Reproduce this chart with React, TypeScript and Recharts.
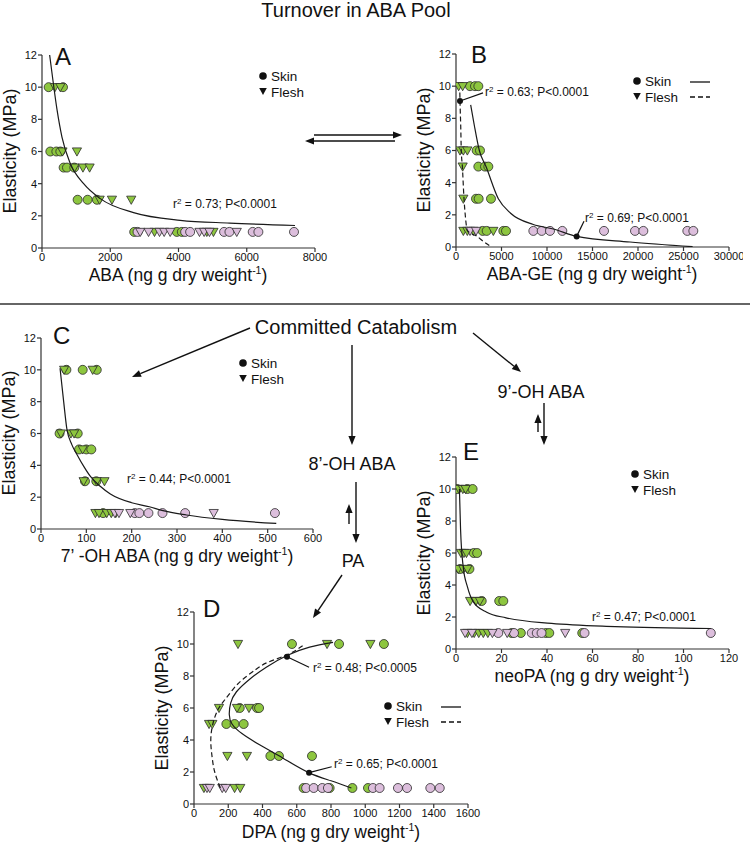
import React from 'react';
import { ScatterChart, Scatter, XAxis, YAxis, ReferenceDot, ReferenceLine } from 'recharts';

const FONT = '"Liberation Sans", Arial, Helvetica, sans-serif';
const GREEN = '#8DC63F';
const PINK = '#DCBEDC';
const EDGE = '#2a2a2a';
const INK = '#111';

type P = [number, number];

const Y_TICKS = [0, 2, 4, 6, 8, 10, 12];

// ---------- Panel A : ABA ----------
const A_xTicks = [0, 2000, 4000, 6000, 8000];
const A_skinGreen: P[] = [[195,10],[615,10],[244,6],[420,6],[537,6],[634,5],[732,5],[946,5],[1044,3],[1337,3],[1610,3],[2702,1],[3951,1],[4097,1]];
const A_fleshGreen: P[] = [[380,10],[537,10],[600,6],[1024,6],[950,5],[1200,5],[1395,5],[1690,3],[2050,3],[2615,3],[3297,1],[4830,1],[5024,1]];
const A_skinPink: P[] = [[2800,1],[4195,1],[4341,1],[5336,1],[5493,1],[6175,1],[6341,1],[7385,1]];
const A_fleshPink: P[] = [[2878,1],[3122,1],[3444,1],[3580,1],[3756,1],[4615,1],[4751,1],[4907,1],[5707,1]];
const A_fit: P[] = [[224,12],[322,10.4],[440,8.6],[585,6.9],[830,5.25],[1220,4.0],[1707,3.07],[2683,2.2],[4050,1.72],[5500,1.55],[7415,1.4]];

// ---------- Panel B : ABA-GE ----------
const B_xTicks = [0, 5000, 10000, 15000, 20000, 25000, 30000];
const B_skinGreen: P[] = [[1538,10],[2088,10],[2454,10],[2271,6],[2637,6],[2454,5],[3187,5],[3553,5],[2198,3],[2490,3],[3846,3],[2930,1],[3370,1],[5201,1],[5495,1]];
const B_fleshGreen: P[] = [[293,10],[733,10],[440,6],[806,6],[1245,6],[733,5],[806,3],[806,1],[1245,1],[1905,1],[4103,1]];
const B_skinPink: P[] = [[8498,1],[9414,1],[10330,1],[11685,1],[16264,1],[19670,1],[20586,1],[25421,1],[26080,1]];
const B_fleshPink: P[] = [[1538,1],[2198,1]];
const B_fitSkin: P[] = [[1612,8.84],[2000,7.6],[2564,6],[3297,5],[4652,3],[6000,2.1],[8498,1.4],[10696,1.12],[13260,0.66],[19121,0.31],[26000,0.02]];
const B_fitFlesh: P[] = [[420,9.6],[440,9.08],[520,7.5],[580,6],[700,5],[880,3],[1000,2.1],[1245,1.03],[1700,0.82],[2270,0.68],[3000,0.35],[3900,0]];

// ---------- Panel C : 7'-OH ABA ----------
const C_xTicks = [0, 100, 200, 300, 400, 500, 600];
const C_skinGreen: P[] = [[56,10],[92,10],[123,10],[41,6],[81,6],[84,5],[100,5],[111,5],[97,3],[122,3],[137,1]];
const C_fleshGreen: P[] = [[51,10],[114,10],[44,6],[66,6],[73,6],[92,5],[94,3],[123,3],[140,3],[120,1],[128,1],[145,1],[155,1],[165,1]];
const C_skinPink: P[] = [[207,1],[217,1],[237,1],[268,1],[318,1],[516,1]];
const C_fleshPink: P[] = [[163,1],[172,1],[197,1],[381,1]];
const C_fit: P[] = [[42,10.1],[50,8],[57,6.3],[68,5.3],[79,4.7],[95,3.9],[109,3.3],[130,2.7],[153,2.2],[200,1.65],[239,1.4],[269,1.15],[321,0.88],[400,0.6],[519,0.35]];

// ---------- Panel D : DPA ----------
const D_xTicks = [0, 200, 400, 600, 800, 1000, 1200, 1400, 1600];
const D_skinGreen: P[] = [[572,10],[847,10],[1109,10],[267,6],[368,6],[380,6],[189,5],[237,5],[290,5],[446,3],[496,3],[689,3],[640,1],[792,1],[925,1],[1016,1]];
const D_fleshGreen: P[] = [[257,10],[777,10],[1030,10],[146,6],[251,6],[321,6],[88,5],[107,5],[195,3],[309,3],[58,1],[237,1],[270,1]];
const D_skinPink: P[] = [[655,1],[699,1],[749,1],[782,1],[1045,1],[1084,1],[1191,1],[1244,1],[1380,1],[1435,1]];
const D_fleshPink: P[] = [[76,1],[92,1],[165,1],[185,1]];
const D_fitSkin: P[] = [[919,1],[800,1.45],[670,1.96],[520,2.86],[383,3.7],[280,4.4],[222,5.0],[206,5.6],[214,6.3],[247,7.0],[325,7.8],[422,8.55],[543,9.28],[675,9.8],[812,10.1]];
const D_fitFlesh: P[] = [[154,1],[121,2],[105,3],[98,4],[110,5],[140,5.9],[179,6.5],[230,7.2],[286,7.8],[360,8.4],[430,8.85],[549,9.35],[636,9.9]];

// ---------- Panel E : neoPA ----------
const E_xTicks = [0, 20, 40, 60, 80, 100, 120];
const E_skinGreen: P[] = [[0.5,10],[5,10],[7.3,10],[7.8,6],[9.3,6],[1.8,5],[5.9,5],[11.3,3],[19,3],[20.8,3],[24.5,1],[28.5,1],[39.5,1],[41,1],[55.5,1]];
const E_fleshGreen: P[] = [[1.3,10],[3,10],[4.2,10],[2.2,6],[3.5,6],[4.6,6],[1.0,5],[3.2,5],[5.0,5],[6.2,3],[8.8,3],[10.5,3],[5,1],[8,1],[10,1],[12,1],[14,1]];
const E_skinPink: P[] = [[18.6,1],[25.5,1],[33.3,1],[35.5,1],[37.6,1],[56.5,1],[112,1]];
const E_fleshPink: P[] = [[4,1],[7,1],[16,1],[22.5,1],[48,1]];
const E_fit: P[] = [[1.5,10],[2,7.5],[3.2,5.1],[5,3.9],[7.6,2.95],[13.5,2.3],[22,1.95],[42,1.6],[70,1.4],[112,1.28]];

const toXY = (a: P[]) => a.map(([x, y]) => ({ x, y }));

const CircleShape = (props: any) => {
  const { cx, cy, fill } = props;
  if (cx == null || cy == null) return <g />;
  return <circle cx={cx} cy={cy} r={4.5} fill={fill} stroke={EDGE} strokeWidth={0.8} />;
};
const TriShape = (props: any) => {
  const { cx, cy, fill } = props;
  if (cx == null || cy == null) return <g />;
  return (
    <path
      d={`M${cx - 4.6},${cy - 3.6}L${cx + 4.6},${cy - 3.6}L${cx},${cy + 4.6}Z`}
      fill={fill}
      stroke={EDGE}
      strokeWidth={0.8}
    />
  );
};
const NoShape = () => <g />;

type Fit = { pts: P[]; dashed?: boolean; joint?: string };
type Dot = { x: number; y: number };
type Leader = { from: Dot; to: Dot };

type PanelProps = {
  left: number; top: number; w: number; h: number;
  xMax: number; xTicks: number[];
  skinGreen: P[]; fleshGreen: P[]; skinPink: P[]; fleshPink: P[];
  fits: Fit[]; dots?: Dot[]; leaders?: Leader[];
};

function Panel(p: PanelProps) {
  const YW = 40;
  const MT = 10;
  const MR = 14;
  const XH = 30;
  return (
    <div style={{ position: 'absolute', left: p.left - YW, top: p.top - MT }}>
      <ScatterChart width={p.w + YW + MR} height={p.h + MT + XH} margin={{ top: MT, right: MR, bottom: 0, left: 0 }}>
        <XAxis
          type="number" dataKey="x" domain={[0, p.xMax]} ticks={p.xTicks} interval={0}
          height={XH} tickSize={4} tickMargin={1} stroke="#333" strokeWidth={1.2}
          tick={{ fontSize: 11, fill: INK, fontFamily: FONT }} allowDataOverflow
        />
        <YAxis
          type="number" dataKey="y" domain={[0, 12]} ticks={Y_TICKS} interval={0}
          width={YW} tickSize={4} tickMargin={1} stroke="#333" strokeWidth={1.2}
          tick={{ fontSize: 11, fill: INK, fontFamily: FONT }} allowDataOverflow
        />
        <Scatter data={toXY(p.skinGreen)} fill={GREEN} shape={CircleShape} isAnimationActive={false} />
        <Scatter data={toXY(p.fleshGreen)} fill={GREEN} shape={TriShape} isAnimationActive={false} />
        <Scatter data={toXY(p.skinPink)} fill={PINK} shape={CircleShape} isAnimationActive={false} />
        <Scatter data={toXY(p.fleshPink)} fill={PINK} shape={TriShape} isAnimationActive={false} />
        {p.fits.map((f, i) => (
          <Scatter
            key={'fit' + i}
            data={toXY(f.pts)}
            shape={NoShape}
            line={{ stroke: '#1a1a1a', strokeWidth: 1.2, strokeDasharray: f.dashed ? '5 3' : undefined, fill: 'none' }}
            lineType="joint"
            lineJointType={(f.joint || 'monotoneX') as any}
            isAnimationActive={false}
          />
        ))}
        {(p.leaders || []).map((l, i) => (
          <ReferenceLine key={'ld' + i} segment={[l.from, l.to]} stroke="#111" strokeWidth={1.2} ifOverflow="visible" />
        ))}
        {(p.dots || []).map((d, i) => (
          <ReferenceDot key={'dt' + i} x={d.x} y={d.y} r={3} fill="#111" stroke="none" ifOverflow="visible" />
        ))}
      </ScatterChart>
    </div>
  );
}

function Arrow({ x1, y1, x2, y2 }: { x1: number; y1: number; x2: number; y2: number }) {
  const dx = x2 - x1;
  const dy = y2 - y1;
  const len = Math.hypot(dx, dy);
  const ux = dx / len;
  const uy = dy / len;
  const hl = 9;
  const hw = 3.6;
  const bx = x2 - ux * hl;
  const by = y2 - uy * hl;
  const pts = `${x2},${y2} ${bx - uy * hw},${by + ux * hw} ${bx + uy * hw},${by - ux * hw}`;
  return (
    <g>
      <line x1={x1} y1={y1} x2={bx} y2={by} stroke="#111" strokeWidth={1.4} />
      <polygon points={pts} fill="#111" />
    </g>
  );
}

function Legend({ x, y, lines }: { x: number; y: number; lines?: boolean }) {
  return (
    <g fontFamily={FONT} fontSize={13.5} fill={INK}>
      <circle cx={x} cy={y} r={3.8} fill="#111" />
      <text x={x + 8} y={y + 5}>Skin</text>
      <path d={`M${x - 3.8},${y + 12}L${x + 3.8},${y + 12}L${x},${y + 19}Z`} fill="#111" />
      <text x={x + 8} y={y + 20.5}>Flesh</text>
      {lines && (
        <g>
          <line x1={x + 53} y1={y + 1} x2={x + 73} y2={y + 1} stroke="#111" strokeWidth={1.3} />
          <line x1={x + 53} y1={y + 16} x2={x + 73} y2={y + 16} stroke="#111" strokeWidth={1.3} strokeDasharray="5 3" />
        </g>
      )}
    </g>
  );
}

function XLabel({ cx, y, name }: { cx: number; y: number; name: string }) {
  return (
    <text x={cx} y={y} textAnchor="middle" fontFamily={FONT} fontSize={17.5} fill={INK}>
      {name} (ng g dry weight<tspan dy={-7} fontSize={10.5}>-1</tspan><tspan dy={7}>)</tspan>
    </text>
  );
}

function YLabel({ x, cy }: { x: number; cy: number }) {
  return (
    <text transform={`translate(${x},${cy}) rotate(-90)`} textAnchor="middle" fontFamily={FONT} fontSize={18} fill={INK}>
      Elasticity (MPa)
    </text>
  );
}

function Stat({ x, y, r2, p }: { x: number; y: number; r2: string; p: string }) {
  return (
    <text x={x} y={y} fontFamily={FONT} fontSize={12} fill={INK}>
      r<tspan dy={-4} fontSize={8}>2</tspan><tspan dy={4}>{` = ${r2}; P<${p}`}</tspan>
    </text>
  );
}

export default function App() {
  return (
    <div style={{ position: 'absolute', left: 0, top: 0, width: 750, height: 846, background: '#fff', overflow: 'hidden' }}>
      <Panel left={42} top={55} w={273} h={193} xMax={8000} xTicks={A_xTicks}
        skinGreen={A_skinGreen} fleshGreen={A_fleshGreen} skinPink={A_skinPink} fleshPink={A_fleshPink}
        fits={[{ pts: A_fit }]} />
      <Panel left={456} top={54} w={273} h={193} xMax={30000} xTicks={B_xTicks}
        skinGreen={B_skinGreen} fleshGreen={B_fleshGreen} skinPink={B_skinPink} fleshPink={B_fleshPink}
        fits={[{ pts: B_fitSkin }, { pts: B_fitFlesh, dashed: true }]}
        dots={[{ x: 440, y: 9.08 }, { x: 13260, y: 0.66 }]}
        leaders={[{ from: { x: 440, y: 9.08 }, to: { x: 2967, y: 9.58 } }, { from: { x: 13260, y: 0.66 }, to: { x: 14066, y: 1.6 } }]} />
      <Panel left={41} top={338} w={272} h={191} xMax={600} xTicks={C_xTicks}
        skinGreen={C_skinGreen} fleshGreen={C_fleshGreen} skinPink={C_skinPink} fleshPink={C_fleshPink}
        fits={[{ pts: C_fit }]} />
      <Panel left={194} top={612} w={274} h={192} xMax={1600} xTicks={D_xTicks}
        skinGreen={D_skinGreen} fleshGreen={D_fleshGreen} skinPink={D_skinPink} fleshPink={D_fleshPink}
        fits={[{ pts: D_fitSkin, joint: 'natural' }, { pts: D_fitFlesh, dashed: true, joint: 'natural' }]}
        dots={[{ x: 543, y: 9.2 }, { x: 672, y: 1.96 }]}
        leaders={[{ from: { x: 543, y: 9.2 }, to: { x: 672, y: 8.55 } }, { from: { x: 672, y: 1.96 }, to: { x: 804, y: 2.33 } }]} />
      <Panel left={456} top={457} w={273} h={192} xMax={120} xTicks={E_xTicks}
        skinGreen={E_skinGreen} fleshGreen={E_fleshGreen} skinPink={E_skinPink} fleshPink={E_fleshPink}
        fits={[{ pts: E_fit }]} />

      <svg width={750} height={846} style={{ position: 'absolute', left: 0, top: 0, pointerEvents: 'none' }}>
        <g fontFamily={FONT} fill={INK}>
          <text x={356} y={17} textAnchor="middle" fontSize={20}>Turnover in ABA Pool</text>
          <text x={356} y={334} textAnchor="middle" fontSize={20}>Committed Catabolism</text>
          <text x={352} y={470} textAnchor="middle" fontSize={18}>8’-OH ABA</text>
          <text x={353} y={567} textAnchor="middle" fontSize={18}>PA</text>
          <text x={541} y={398} textAnchor="middle" fontSize={18}>9’-OH ABA</text>

          <text x={55} y={65} fontSize={24}>A</text>
          <text x={471} y={63} fontSize={24}>B</text>
          <text x={53} y={344} fontSize={24}>C</text>
          <text x={203} y={617} fontSize={24}>D</text>
          <text x={463} y={460} fontSize={24}>E</text>
        </g>

        <line x1={0} y1={304} x2={750} y2={304} stroke="#333" strokeWidth={1.6} />

        <Arrow x1={314} y1={135} x2={402} y2={135} />
        <Arrow x1={395} y1={141} x2={305} y2={141} />
        <Arrow x1={250} y1={328} x2={132} y2={377} />
        <Arrow x1={352} y1={345} x2={352} y2={445} />
        <Arrow x1={356} y1={482} x2={356} y2={543} />
        <Arrow x1={349} y1={524} x2={349} y2={504} />
        <Arrow x1={342} y1={575} x2={313} y2={618} />
        <Arrow x1={473} y1={333} x2={521} y2={372} />
        <Arrow x1={538} y1={432} x2={538} y2={414} />
        <Arrow x1={544} y1={403} x2={544} y2={445} />

        <Legend x={263} y={76} />
        <Legend x={637} y={81} lines />
        <Legend x={243} y={363} />
        <Legend x={388} y={706} lines />
        <Legend x={635} y={474} />

        <Stat x={173} y={208} r2="0.73" p="0.0001" />
        <Stat x={485} y={96} r2="0.63" p="0.0001" />
        <Stat x={585} y={222} r2="0.69" p="0.0001" />
        <Stat x={127} y={483} r2="0.44" p="0.0001" />
        <Stat x={313} y={672} r2="0.48" p="0.0005" />
        <Stat x={334} y={768} r2="0.65" p="0.0001" />
        <Stat x={592} y={621} r2="0.47" p="0.0001" />

        <YLabel x={16} cy={151} />
        <YLabel x={430} cy={150} />
        <YLabel x={15} cy={433} />
        <YLabel x={168} cy={708} />
        <YLabel x={430} cy={553} />

        <XLabel cx={178} y={281} name="ABA" />
        <XLabel cx={592} y={280} name="ABA-GE" />
        <XLabel cx={177} y={562} name="7’ -OH ABA" />
        <XLabel cx={331} y={838} name="DPA" />
        <XLabel cx={592} y={682} name="neoPA" />
      </svg>
    </div>
  );
}
